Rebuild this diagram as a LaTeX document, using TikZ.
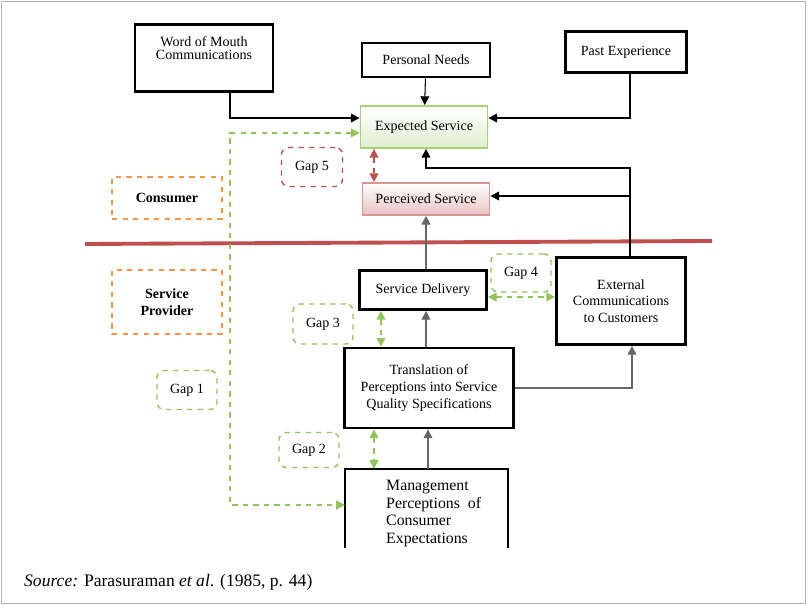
\documentclass[tikz,border=0pt]{standalone}
\usepackage{fontspec}
\setmainfont{Liberation Serif}
\usepackage{tikz}
\usetikzlibrary{positioning, arrows.meta}
\begin{document}
\begin{tikzpicture}[x=0.02cm,y=-0.02cm,font=\footnotesize,
  box/.style={draw=black,line width=1.6pt,align=center,inner sep=0pt},
  gapbox/.style={draw,dashed,rounded corners=4pt,line width=0.8pt,inner sep=0pt},
  link/.style={-{Triangle[length=5pt,width=5pt]},line width=0.6pt},
  gaplink/.style={{Triangle[length=5pt,width=5pt]}-{Triangle[length=5pt,width=5pt]},dashed,line width=0.8pt}]
\definecolor{gapgreen}{RGB}{146,196,90}
\definecolor{gapred}{RGB}{192,80,77}
\definecolor{gaporange}{RGB}{247,150,70}
\useasboundingbox (0,0) rectangle (809,607);
\draw[gray!60,line width=0.4pt] (1,1) rectangle (805,603);
% consumer side
\node[box,minimum width=2.76cm,minimum height=1.34cm] (wom) at (204,58) {};
\node[anchor=north,align=center] at (wom.north) [yshift=-4pt] {Word of Mouth\\[-2pt]Communications};
\node[box,minimum width=2.56cm,minimum height=0.68cm] (needs) at (426,60) {Personal Needs};
\node[box,minimum width=2.42cm,minimum height=0.82cm] (past) at (626,52) {Past Experience};
\node[draw=gapgreen!80,line width=1pt,top color=white,bottom color=gapgreen!30,minimum width=2.54cm,minimum height=0.84cm] (expected) at (424,127) {Expected Service};
\node[draw=gapred!60,line width=1pt,top color=white,bottom color=gapred!35,minimum width=2.54cm,minimum height=0.64cm] (perceived) at (426,199) {Perceived Service};
\node[gapbox,draw=gaporange,minimum width=2.2cm,minimum height=0.84cm,rounded corners=0pt] (consumer) at (167,198) {\textbf{Consumer}};
\node[gapbox,draw=gapred,minimum width=1.22cm,minimum height=0.78cm] (gap5) at (312,167) {Gap 5};
% the line
\draw[gapred,line width=2.2pt] (85,244) -- (712,241);
% provider side
\node[gapbox,draw=gaporange,minimum width=2.2cm,minimum height=1.28cm,rounded corners=0pt,align=center] (provider) at (167,302) {\textbf{Service}\\\textbf{Provider}};
\node[box,minimum width=2.54cm,minimum height=0.78cm] (delivery) at (423,290) {Service Delivery};
\node[box,minimum width=2.58cm,minimum height=1.74cm] (external) at (621,301) {External\\Communications\\to Customers};
\node[box,minimum width=3.38cm,minimum height=1.6cm] (translation) at (429,388) {Translation of\\Perceptions into Service\\Quality Specifications};
\node[gapbox,draw=gapgreen,minimum width=1.2cm,minimum height=0.76cm] (gap4) at (521,273) {Gap 4};
\node[gapbox,draw=gapgreen,minimum width=1.2cm,minimum height=0.8cm] (gap3) at (323,324) {Gap 3};
\node[gapbox,draw=gapgreen,minimum width=1.2cm,minimum height=0.78cm] (gap1) at (187,390) {Gap 1};
\node[gapbox,draw=gapgreen,minimum width=1.2cm,minimum height=0.7cm] (gap2) at (309,450) {Gap 2};
\draw[line width=1.6pt] (345,548) -- (345,469) -- (508,469) -- (508,548);
\node[align=left,anchor=north west,font=\small] (management) at (380,474) {Management\\[-1pt]Perceptions\ \ of\\[-1pt]Consumer\\[-1pt]Expectations};
\coordinate (mgmttop) at (428,469);
\coordinate (mgmtwest) at (345,505);
% connectors
\draw[link] (wom.south -| 230,0) |- (expected.west |- 0,118);
\draw[link] (needs) -- (expected);
\draw[link] (past.south -| 630,0) |- (expected.east |- 0,118);
\draw[link] (external.north -| 630,0) |- (426,168) -- (expected.south -| 426,0);
\draw[link] (630,196) -- (perceived.east |- 0,196);
\draw[link,gray!80!black] (delivery.north -| 426,0) -- (perceived.south -| 426,0);
\draw[link,gray!80!black] (translation.north -| 426,0) -- (delivery.south -| 426,0);
\draw[link,gray!80!black] (mgmttop) -- (translation.south -| 428,0);
\draw[link,gray!80!black] (translation.east) -| (external.south -| 632,0);
\draw[gapgreen,dashed,line width=0.8pt,{Triangle[length=5pt,width=5pt]}-{Triangle[length=5pt,width=5pt]}] (expected.west |- 0,133) -| (230,505) -- (mgmtwest);
\draw[gaplink,gapred] (expected.south -| 374,0) -- (perceived.north -| 374,0);
\draw[gaplink,gapgreen] (delivery.east |- 0,297) -- (external.west |- 0,297);
\draw[gaplink,gapgreen] (delivery.south -| 381,0) -- (translation.north -| 381,0);
\draw[gaplink,gapgreen] (translation.south -| 374,0) -- (374,469);
\node[anchor=west,font=\normalsize] (source) at (18,582) {\textit{Source:} Parasuraman \textit{et al}. (1985, p. 44)};
\end{tikzpicture}
\end{document}
